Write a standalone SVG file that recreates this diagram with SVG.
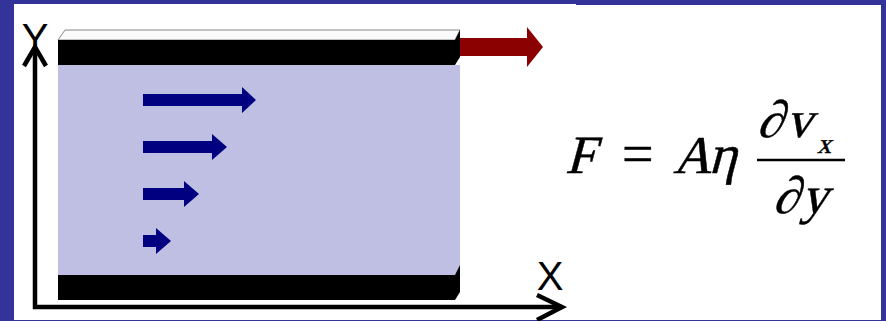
<svg xmlns="http://www.w3.org/2000/svg" width="886" height="321" viewBox="0 0 886 321">
<style>
.ax{stroke:#000;stroke-width:4.5;fill:none}
.lbl{font-family:"Liberation Sans",Arial,sans-serif;font-size:40px;fill:#000}
.m{font-family:"Liberation Serif","Times New Roman",serif;fill:#000;stroke:#000;stroke-width:0.45}
.v{fill:#000080}
</style>
<rect x="0" y="0" width="886" height="321" fill="#333399"/>
<rect x="14" y="4" width="867" height="316" fill="#fff"/>
<rect x="576" y="4" width="305" height="1" fill="#333399"/>
<g id="fluid">
<rect x="58" y="65" width="402" height="210" fill="#bfbfe3"/>
</g>
<g id="top-plate">
<polygon points="58,40 65,30 460,30 455,40" fill="#fbfbfb" stroke="#888" stroke-width="1"/>
<rect x="58" y="40" width="397" height="25" fill="#000"/>
<polygon points="455,40 460,30 460,57 455,65" fill="#000"/>
</g>
<g id="bottom-plate">
<rect x="58" y="275" width="397" height="25" fill="#000"/>
<polygon points="455,275 460,265 460,292 455,300" fill="#000"/>
</g>
<g id="force-arrow">
<polygon points="460,38 527,38 527,27 543,47 527,67 527,56 460,56" fill="#8b0000"/>
</g>
<g id="velocity">
<polygon class="v" points="143,94 242,94 242,87 256,100 242,113 242,106 143,106"/>
<polygon class="v" points="143,141 212,141 212,134 227,147 212,160 212,153 143,153"/>
<polygon class="v" points="143,188 184,188 184,181 199,194 184,207 184,200 143,200"/>
<polygon class="v" points="143,235 156,235 156,228 171,241 156,254 156,247 143,247"/>
</g>
<g id="connectors">
<polyline class="ax" points="35,48 35,307 562,307"/>
<polyline class="ax" points="24,66 35,47 46,66"/>
<polyline class="ax" points="537,295 562,307 537,320"/>
</g>
<g id="labels">
<text class="lbl" x="35" y="52" text-anchor="middle">Y</text>
<text class="lbl" x="550" y="290" text-anchor="middle">X</text>
</g>
<g id="formula">
<text class="m" transform="translate(565,173) skewX(-15)" font-size="54">F</text>
<text class="m" x="622" y="173" font-size="56" stroke-width="0.4">=</text>
<text class="m" transform="translate(673,173) skewX(-15)" font-size="53">A</text>
<text class="m" transform="translate(708,173) skewX(-15)" font-size="55">η</text>
<line x1="757" y1="160" x2="845" y2="160" stroke="#000" stroke-width="2.5"/>
<text class="m" transform="translate(757,137) skewX(-15)" font-size="52">∂</text>
<text class="m" transform="translate(786,137) skewX(-15)" font-size="52">v</text>
<text class="m" transform="translate(817,153) skewX(-15)" font-size="28">x</text>
<text class="m" transform="translate(773,213) skewX(-15)" font-size="52">∂</text>
<text class="m" transform="translate(801,213) skewX(-15)" font-size="53">y</text>
</g>
</svg>
